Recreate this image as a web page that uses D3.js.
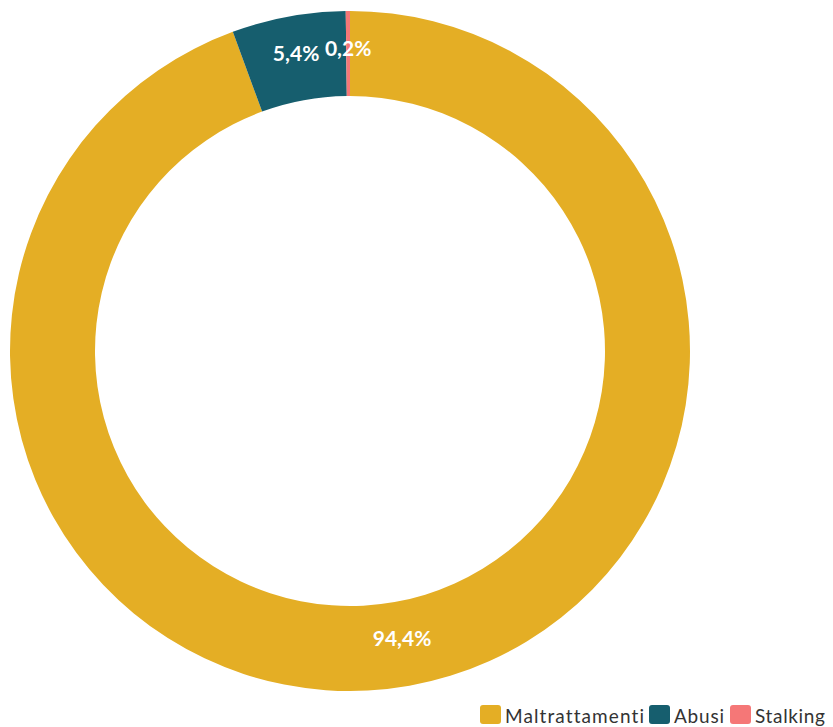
<!DOCTYPE html>
<html>
<head>
<meta charset="utf-8">
<script src="https://cdn.jsdelivr.net/npm/d3@7"></script>
<style>
  html, body { margin: 0; padding: 0; background: #fff; }
  svg { display: block; font-family: Lato, "Open Sans", sans-serif; font-variant-ligatures: none; }
</style>
</head>
<body>
<svg id="chart" width="833" height="727"></svg>
<script>
// Reati: quota per tipologia (%)
const categories = ["Maltrattamenti", "Abusi", "Stalking"];
const values = [94.4, 5.4, 0.2];
const labels = ["94,4%", "5,4%", "0,2%"];
const colors = ["#E4AE25", "#165E6E", "#F57777"];

const svg = d3.select("#chart");
const cx = 350, cy = 351;
const outerR = 340, innerR = 255;

const data = categories.map((c, i) => ({ name: c, value: values[i], label: labels[i] }));

const pie = d3.pie().sort(null).value(d => d.value);
const arc = d3.arc().innerRadius(innerR).outerRadius(outerR);

const g = svg.append("g").attr("transform", `translate(${cx},${cy})`);
const color = d3.scaleOrdinal().domain(categories).range(colors);

const arcs = pie(data);

g.selectAll("path.slice")
  .data(arcs)
  .join("path")
  .attr("class", "slice")
  .attr("d", arc)
  .attr("fill", d => color(d.data.name));

g.selectAll("text.val")
  .data(arcs)
  .join("text")
  .attr("class", "val")
  .attr("transform", d => `translate(${arc.centroid(d)})`)
  .attr("dy", "-0.3em")
  .attr("text-anchor", "middle")
  .attr("dominant-baseline", "central")
  .attr("fill", "#fff")
  .attr("font-weight", 700)
  .attr("font-size", 21)
  .text(d => d.data.label);

// Legenda in basso a destra
const legendItems = [
  { name: "Maltrattamenti", x: 480, w: 139 },
  { name: "Abusi", x: 649, w: 50 },
  { name: "Stalking", x: 730, w: 70 }
];
const legend = svg.append("g").attr("transform", "translate(0,705)");
const li = legend.selectAll("g.item").data(legendItems).join("g")
  .attr("class", "item")
  .attr("transform", d => `translate(${d.x},0)`);
li.append("rect")
  .attr("width", 21).attr("height", 19).attr("rx", 3)
  .attr("fill", d => color(d.name));
li.append("text")
  .attr("x", 25).attr("y", 10)
  .attr("dominant-baseline", "central")
  .attr("font-size", 19)
  .attr("fill", "#333")
  .attr("textLength", d => d.w)
  .attr("lengthAdjust", "spacing")
  .text(d => d.name);
</script>
</body>
</html>
